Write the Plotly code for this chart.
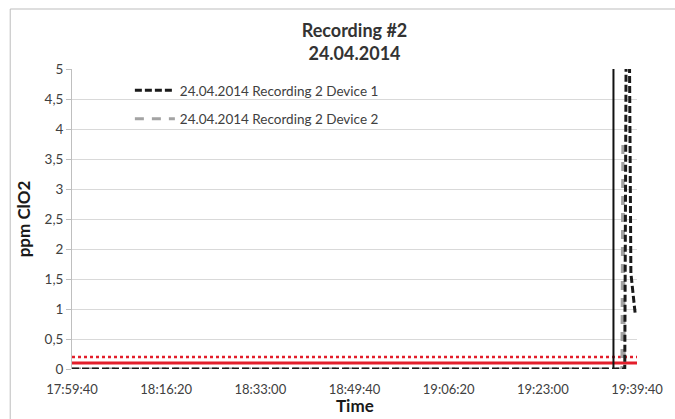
import plotly.graph_objects as go

# ---- data ----
DAY = "2014-04-24 "
tick_labels = ["17:59:40", "18:16:20", "18:33:00", "18:49:40", "19:06:20", "19:23:00", "19:39:40"]
y_ticks = [0, 0.5, 1, 1.5, 2, 2.5, 3, 3.5, 4, 4.5, 5]
y_tick_text = ["0", "0,5", "1", "1,5", "2", "2,5", "3", "3,5", "4", "4,5", "5"]

dev1_times = ["17:59:40", "19:37:30", "19:37:45", "19:38:20", "19:38:35", "19:39:20"]
dev1_values = [0, 0, 5.5, 5.2, 1.6, 0.93]

dev2_times = ["17:59:40", "19:37:00", "19:37:10", "19:37:25"]
dev2_values = [0, 0, 3.8, 0]

limit_solid = 0.1
limit_dotted = 0.2
marker_time = "19:35:30"

name1 = "24.04.2014 Recording 2 Device 1"
name2 = "24.04.2014 Recording 2 Device 2"

def ts(t):
    return DAY + t

x_start, x_end = ts(tick_labels[0]), ts(tick_labels[-1])

fig = go.Figure()

# threshold lines
fig.add_trace(go.Scatter(x=[x_start, x_end], y=[limit_dotted, limit_dotted], mode="lines",
                         line=dict(color="#e31e2b", width=2.5, dash="dot"), showlegend=False, hoverinfo="skip"))
fig.add_trace(go.Scatter(x=[x_start, x_end], y=[limit_solid, limit_solid], mode="lines",
                         line=dict(color="#e31e2b", width=3), showlegend=False, hoverinfo="skip"))
# marker vertical line
fig.add_trace(go.Scatter(x=[ts(marker_time), ts(marker_time)], y=[0, 5], mode="lines",
                         line=dict(color="#111111", width=2), showlegend=False, hoverinfo="skip"))

fig.add_trace(go.Scatter(x=[ts(t) for t in dev2_times], y=dev2_values, mode="lines", name=name2,
                         legendgroup="b", legendrank=2,
                         line=dict(color="#a3a3a3", width=3, dash="9px,8px")))
fig.add_trace(go.Scatter(x=[ts(t) for t in dev1_times], y=dev1_values, mode="lines", name=name1,
                         legendgroup="a", legendrank=1,
                         line=dict(color="#1a1a1a", width=3, dash="7px,3px")))

font_family = "Lato, 'Liberation Sans', sans-serif"
L, R, T, B = 72, 27, 69, 50
PW, PH = 675 - L - R, 419 - T - B

fig.update_layout(
    width=675, height=419,
    margin=dict(l=L, r=R, t=T, b=B),
    paper_bgcolor="white", plot_bgcolor="white",
    font=dict(family=font_family, color="#404040", size=13),
    title=dict(text="<b>Recording #2<br>24.04.2014</b>", x=0.5, xref="paper", xanchor="center",
               y=1 - 37 / 419, yanchor="middle", font=dict(size=18, color="#333333")),
    showlegend=True,
    legend=dict(x=(131 - L) / PW, y=(PH - 6) / PH, xanchor="left", yanchor="top",
                bgcolor="rgba(255,255,255,0)", traceorder="grouped", tracegroupgap=8,
                itemwidth=40, font=dict(size=13.5, color="#404040")),
    xaxis=dict(type="date", range=[x_start, x_end], tickvals=[ts(t) for t in tick_labels],
               ticktext=tick_labels, showgrid=False, zeroline=False, showline=False,
               ticks="", tickfont=dict(size=13, color="#404040"), ticklabelstandoff=11,
               ticklabeloverflow="allow"),
    yaxis=dict(range=[0, 5], tickvals=y_ticks, ticktext=y_tick_text, showgrid=True,
               gridcolor="#d9d9d9", gridwidth=1, zeroline=False, showline=True, linecolor="#bfbfbf",
               ticks="outside", ticklen=5, tickcolor="#bfbfbf", tickfont=dict(size=13.5, color="#404040"),
               title=dict(text="<b>ppm ClO2</b>", font=dict(size=17, color="#1a1a1a"), standoff=9)),
    annotations=[dict(text="<b>Time</b>", xref="paper", yref="paper", x=0.5, y=-(405 - T - PH) / PH,
                      xanchor="center", yanchor="middle", showarrow=False,
                      font=dict(size=17, color="#1a1a1a"))],
    shapes=[dict(type="rect", xref="paper", yref="paper",
                 x0=(9 - L) / PW, x1=1.2, y0=-0.5, y1=(PH + T - 9) / PH,
                 line=dict(color="#bdbdbd", width=1), fillcolor="rgba(0,0,0,0)", layer="below")],
)

fig.write_html("out.html", config={"displayModeBar": False},
               post_script="document.body.style.margin='0';document.body.style.overflow='hidden';")
